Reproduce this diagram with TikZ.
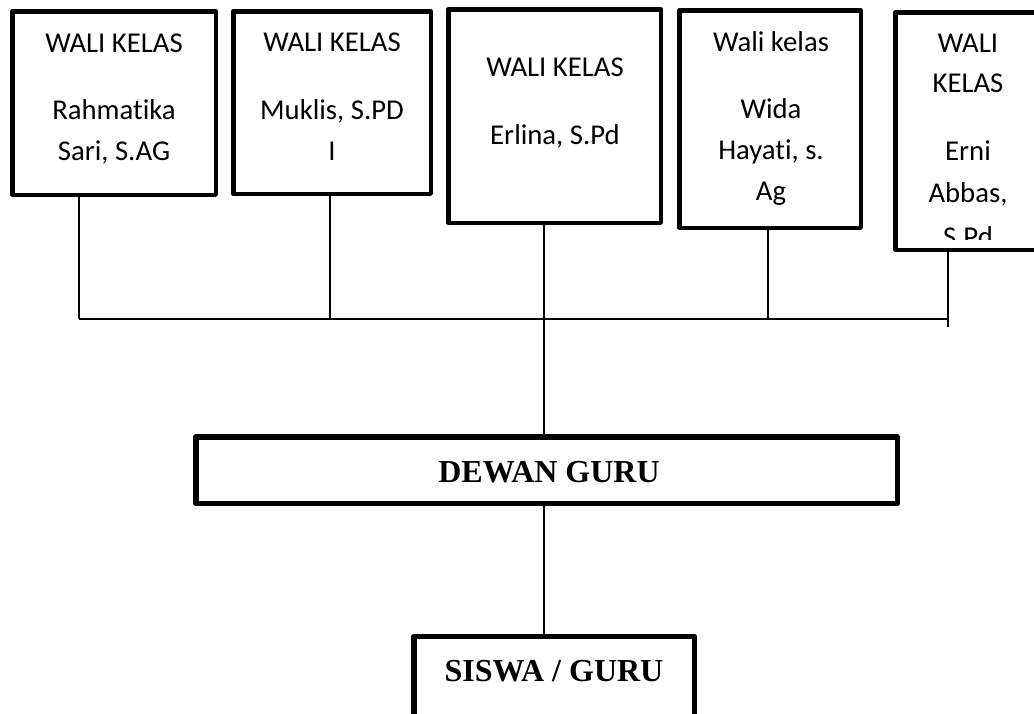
\documentclass[tikz,border=0pt]{standalone}
\usepackage{fontspec}
\setmainfont{Carlito}[Ligatures={NoCommon,NoRequired}]
\newfontfamily\timesfont{Liberation Serif}
\begin{document}
\begin{tikzpicture}[x=1pt,y=-1pt,
  wbox/.style={draw=black,line width=4.5pt,rectangle,inner sep=0pt,line join=round},
  gbox/.style={draw=black,line width=5.5pt,rectangle,inner sep=0pt,line join=round},
  lbl/.style={anchor=base,inner sep=0pt,font=\fontsize{28.7}{34}\selectfont},
  blbl/.style={anchor=base,inner sep=0pt,font=\timesfont\bfseries\fontsize{32}{38}\selectfont},
  conn/.style={draw=black,line width=1.6pt}]
\useasboundingbox (0,0) rectangle (1034,713);
% boxes
\node[wbox,minimum width=203.5pt,minimum height=183.5pt] (b1) at (114,103) {};
\node[wbox,minimum width=197.5pt,minimum height=182.5pt] (b2) at (332,102.5) {};
\node[wbox,minimum width=212.5pt,minimum height=213.5pt] (b3) at (554.5,116) {};
\node[wbox,minimum width=181.5pt,minimum height=217.5pt] (b4) at (770,119) {};
\node[wbox,minimum width=145.5pt,minimum height=237.5pt] (b5) at (968,131) {};
\node[gbox,minimum width=701.5pt,minimum height=66.5pt] (dg) at (546.5,470) {};
\node[gbox,minimum width=280.5pt,minimum height=163pt] (sg) at (554,718) {};
% texts
\node[lbl] (t1a) at (114,52) {WALI KELAS};
\node[lbl] (t1b) at (114,119) {Rahmatika};
\node[lbl] (t1c) at (114,160) {Sari, S.AG};
\node[lbl] (t2a) at (332,51) {WALI KELAS};
\node[lbl] (t2b) at (332,119) {Muklis, S.PD};
\node[lbl] (t2c) at (332,160) {I};
\node[lbl] (t3a) at (555,76) {WALI KELAS};
\node[lbl] (t3b) at (555,144) {Erlina, S.Pd};
\node[lbl] (t4a) at (771,51) {Wali kelas};
\node[lbl] (t4b) at (771,118) {Wida};
\node[lbl] (t4c) at (771,159) {Hayati, s.};
\node[lbl] (t4d) at (771,200) {Ag};
\node[lbl] (t5a) at (968,52) {WALI};
\node[lbl] (t5b) at (968,92) {KELAS};
\node[lbl] (t5c) at (968,160) {Erni};
\node[lbl] (t5d) at (968,202) {Abbas,};
\begin{scope}
\clip (880,200) rectangle (1040,239);
\node[lbl] (t5e) at (968,246) {S.Pd};
\end{scope}
\node[blbl] (tdg) at (549,482) {DEWAN GURU};
\node[blbl] (tsg) at (554,681) {SISWA / GURU};
% connectors
\coordinate (j1) at (79,319);
\coordinate (j2) at (330,319);
\coordinate (j3) at (544,319);
\coordinate (j4) at (768,319);
\coordinate (j5) at (948,319);
\coordinate (j5e) at (948,327);
\draw[conn] (j1 |- b1.south) -- (j1);
\draw[conn] (j2 |- b2.south) -- (j2);
\draw[conn] (j4 |- b4.south) -- (j4);
\draw[conn] (j5 |- b5.south) -- (j5e);
\draw[conn] (j1) -- (j5);
\draw[conn] (j3 |- b3.south) -- (j3 |- dg.north);
\draw[conn] (j3 |- dg.south) -- (j3 |- sg.north);
\end{tikzpicture}
\end{document}
